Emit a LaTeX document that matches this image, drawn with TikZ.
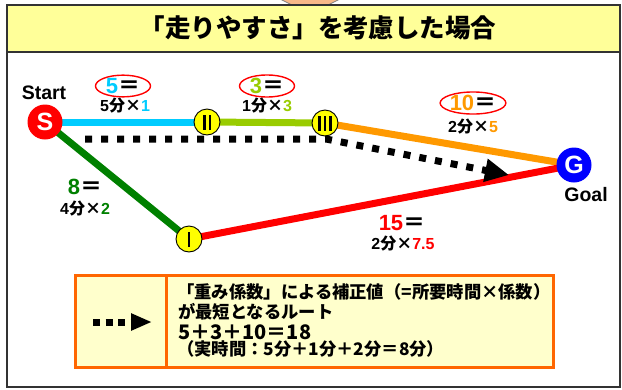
\documentclass[tikz,border=0pt]{standalone}
\usepackage{fontspec}
\setmainfont{Liberation Sans}
\newfontfamily\jp{Noto Sans CJK JP}
\usetikzlibrary{shapes.geometric,arrows.meta,backgrounds}
\definecolor{cy}{HTML}{00CCFF}
\definecolor{yg}{HTML}{99CC00}
\definecolor{orn}{HTML}{FF9900}
\definecolor{grn}{HTML}{008000}
\definecolor{rd}{HTML}{FF0000}
\definecolor{bl}{HTML}{0000FF}
\definecolor{yel}{HTML}{FFFF00}
\definecolor{headfill}{HTML}{FFFF99}
\definecolor{legfill}{HTML}{FFFFCC}
\definecolor{legor}{HTML}{FF6600}
\definecolor{framecol}{HTML}{333333}
\definecolor{peach}{HTML}{F8B888}
\newcommand\J[1]{{\jp #1}}
\newcommand\vbarr{\rule{2.8pt}{15pt}}
\begin{document}
\begin{tikzpicture}[x=1pt,y=-1pt,font=\bfseries,
  stn/.style={circle,minimum size=35pt,inner sep=0pt,text=white,font=\bfseries\fontsize{25}{25}\selectfont},
  midn/.style={circle,draw=black,line width=0.9pt,fill=yel,minimum size=26pt,inner sep=0pt},
  route/.style={line width=7pt},
  big/.style={font=\bfseries\fontsize{22}{24}\selectfont},
  small/.style={font=\bfseries\fontsize{16}{18}\selectfont},
  oval/.style={ellipse,draw=rd,line width=1.4pt,inner sep=0pt},
  lbl/.style={font=\bfseries\fontsize{19.5}{21}\selectfont},
  legtxt/.style={anchor=west,inner sep=0pt,font=\jp\bfseries\fontsize{17.3}{19}\selectfont},
  dots/.style={line width=7pt,dash pattern=on 7pt off 9pt}]
\useasboundingbox (0,0) rectangle (622,389);
% top arrow remnant
\draw[fill=peach,draw=gray,line width=0.8pt] (278,-2) -- (342,-2) -- (328,5) -- (292,5) -- cycle;
% frame and header
\fill[headfill] (7,5) rectangle (620,52);
\draw[framecol,line width=1.6pt] (7,5) rectangle (620,387);
\draw[framecol,line width=1.6pt] (7,52) -- (620,52);
\node (title) at (318,28) {\J{\fontsize{25.5}{27}\selectfont 「走りやすさ」を考慮した場合}};
% stations
\node[stn,fill=rd] (S) at (45,122) {S};
\node[stn,fill=bl] (G) at (574,165) {G};
\node[midn] (n1) at (189,239) {\vbarr};
\node[midn] (n2) at (207,122) {\vbarr\hspace{3pt}\vbarr};
\node[midn] (n3) at (325,123) {\vbarr\hspace{3pt}\vbarr\hspace{3pt}\vbarr};
\begin{pgfonlayer}{background}
\draw[route,cy] (S.center) -- (n2.center);
\draw[route,yg] (n2.center) -- (n3.center);
\draw[route,orn] (n3.center) -- (G.center);
\draw[route,grn] (S.center) -- (n1.center);
\draw[route,rd] (n1.center) -- (G.center);
\end{pgfonlayer}
\node[lbl] (start) at (44,93) {Start};
\node[lbl] (goal) at (586,195) {Goal};
% dotted route
\coordinate (d0) at (85,139);
\coordinate (d1) at (326,139);
\coordinate (d2) at (509,175);
\draw[dots,-{Triangle[length=24pt,width=22pt]}] (d0) -- (d1) -- (d2);
% labels
\node[oval,big,minimum width=55pt,minimum height=21pt] (a5) at (123,86) {{\color{cy}5}\J{＝}};
\node[small] (b5) at (125,106) {5\J{分×}{\color{cy}1}};
\node[oval,big,minimum width=55pt,minimum height=21pt] (a3) at (267,86) {{\color{yg}3}\J{＝}};
\node[small] (b3) at (267,106) {1\J{分×}{\color{yg}3}};
\node[oval,big,minimum width=57pt,minimum height=22pt] (a10) at (473,103) {{\color{orn}10}\J{＝}};
\node[small] (b10) at (473,127) {2\J{分×}{\color{orn}5}};
\node[big] (a8) at (85,187) {{\color{grn}8}\J{＝}};
\node[small] (b8) at (85,209) {4\J{分×}{\color{grn}2}};
\node[big] (a15) at (402,223) {{\color{rd}15}\J{＝}};
\node[small] (b15) at (403,244) {2\J{分×}{\color{rd}7.5}};
% legend
\draw[legor,fill=legfill,line width=3pt] (75,275) rectangle (553,367);
\draw[legor,line width=3pt] (166,275) -- (166,367);
\coordinate (l0) at (93,322);
\coordinate (l1) at (152,322);
\draw[line width=7pt,dash pattern=on 7pt off 5.5pt,-{Triangle[length=21pt,width=16pt]}] (l0) -- (l1);
\node[legtxt] (t1) at (177,292) {「重み係数」による補正値（=所要時間×係数）};
\node[legtxt] (t2) at (178,312) {が最短となるルート};
\node[legtxt,font=\jp\bfseries\fontsize{20}{22}\selectfont] (t3) at (178,332) {5＋3＋10＝18};
\node[legtxt] (t4) at (177,349) {（実時間：5分＋1分＋2分＝8分）};
\end{tikzpicture}
\end{document}
